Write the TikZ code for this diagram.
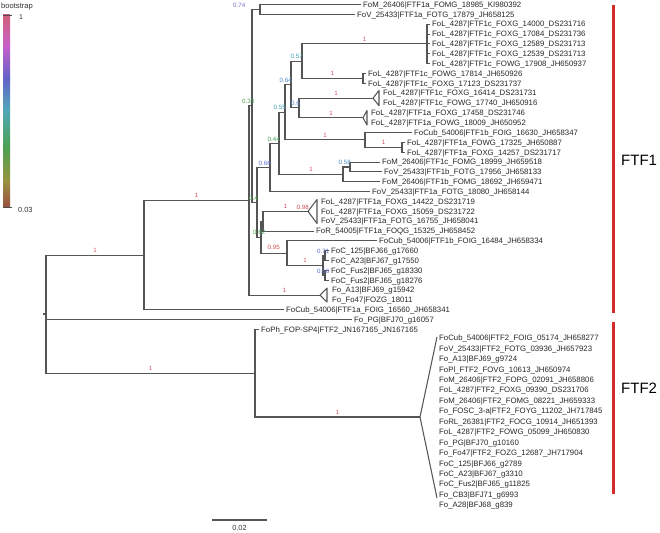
\documentclass[tikz,border=0pt]{standalone}
\usepackage{fontspec}
\setmainfont{Liberation Sans}

\definecolor{treeline}{HTML}{555555}
\definecolor{bsone}{HTML}{D2505E}
\definecolor{bsred}{HTML}{D04A4A}
\definecolor{bspurple}{HTML}{7A6CC8}
\definecolor{bsblue}{HTML}{5A6FCC}
\definecolor{bssky}{HTML}{4C88C4}
\definecolor{bsteal}{HTML}{46A0B4}
\definecolor{bsgreen}{HTML}{46A050}
\definecolor{cladered}{HTML}{D42A2A}
\definecolor{lg1}{HTML}{D0607A}
\definecolor{lg2}{HTML}{C860C8}
\definecolor{lg3}{HTML}{6462C8}
\definecolor{lg4}{HTML}{50A8B8}
\definecolor{lg5}{HTML}{4EA050}
\definecolor{lg6}{HTML}{989440}
\definecolor{lg7}{HTML}{9A5040}

\begin{document}
\begin{tikzpicture}[x=1pt, y=-1pt,
        branch/.style={draw=treeline, line width=1.05pt, to path={|- (\tikztotarget)}},
        stem/.style={draw=treeline, line width=1.05pt},
        tri/.style={draw=treeline, line width=1.05pt, line join=round},
        tip/.style={anchor=west, inner xsep=2pt, inner ysep=0pt, text height=5.5pt, text depth=0pt,
            font=\fontsize{7.8}{8}\selectfont, text=black!85},
        bs/.style={anchor=south east, inner sep=0.5pt, font=\fontsize{6.2}{6.2}\selectfont},
        bl/.style={anchor=south, inner sep=1pt, font=\fontsize{6.2}{6.2}\selectfont, text=bsone},
        clade/.style={draw=cladered, line width=3pt},
        cladename/.style={anchor=west, inner sep=0pt, font=\fontsize{15}{16}\selectfont}]

    \useasboundingbox (0,0) rectangle (660,532);

    % Legenda
    \shade[top color=lg1, bottom color=lg2] (3,15) rectangle (10,45.5);
    \shade[top color=lg2, bottom color=lg3] (3,45) rectangle (10,78.5);
    \shade[top color=lg3, bottom color=lg4] (3,78) rectangle (10,110.5);
    \shade[top color=lg4, bottom color=lg5] (3,110) rectangle (10,148.5);
    \shade[top color=lg5, bottom color=lg6] (3,148) rectangle (10,180.5);
    \shade[top color=lg6, bottom color=lg7] (3,180) rectangle (10,207);
    \draw[black!70, line width=0.6pt] (3,15) -- (12,15);
    \draw[black!70, line width=0.6pt] (3,207) -- (12,207);
    \node[anchor=west, inner sep=0pt, font=\fontsize{7.6}{8}\selectfont, text=black!80] (legtitle) at (1,7) {bootstrap};
    \node[anchor=west, inner sep=0pt, font=\fontsize{7}{8}\selectfont, text=black!80] (legmax) at (19,17.5) {1};
    \node[anchor=west, inner sep=0pt, font=\fontsize{7.4}{8}\selectfont, text=black!80] (legmin) at (18,210) {0.03};

    % Wezly wewnetrzne
    \coordinate (root0) at (43,314);
    \coordinate (root) at (46,314);
    \coordinate (k144) at (144,255.2);
    \coordinate (k249) at (249,200.5);
    \coordinate (k33) at (252,105.9);
    \coordinate (k74) at (260,9.4);
    \coordinate (k40) at (257,202.35);
    \coordinate (k66) at (270,167.5);
    \coordinate (k44) at (279,143.3);
    \coordinate (k55) at (285,112.2);
    \coordinate (k64) at (291,84.55);
    \coordinate (k57) at (302,61.15);
    \coordinate (kp5) at (427,43.9);
    \coordinate (kp7) at (363,78.4);
    \coordinate (k60) at (299,107.95);
    \coordinate (kC) at (365,139.9);
    \coordinate (kD) at (402,147.3);
    \coordinate (kE) at (343,174.4);
    \coordinate (k58) at (350,167.0);
    \coordinate (k62) at (261,237.2);
    \coordinate (kP) at (263,221.2);
    \coordinate (k95) at (287,253.2);
    \coordinate (kS) at (323,265.5);
    \coordinate (k71) at (325,255.7);
    \coordinate (k56) at (325,275.4);
    \coordinate (kF2) at (255,373.3);

    % Trojkaty (zwiniete klady)
    \coordinate (a1) at (373,98.1);  \coordinate (a1t) at (379,90.5);  \coordinate (a1b) at (379,105.7);
    \coordinate (a2) at (363,117.8); \coordinate (a2t) at (367,110.5); \coordinate (a2b) at (367,125);
    \coordinate (a3) at (308,211.35); \coordinate (a3t) at (317,199.5); \coordinate (a3b) at (317,223.5);
    \coordinate (a4) at (320,295.1); \coordinate (a4t) at (327,288);   \coordinate (a4b) at (327,302);
    \coordinate (a5) at (420,417);   \coordinate (a5t) at (437,337);   \coordinate (a5b) at (437,498);
    \draw[tri] (a1) -- (a1t) -- (a1b) -- cycle;
    \draw[tri] (a2) -- (a2t) -- (a2b) -- cycle;
    \draw[tri] (a3) -- (a3t) -- (a3b) -- cycle;
    \draw[tri] (a4) -- (a4t) -- (a4b) -- cycle;
    \draw[tri] (a5t) -- (a5) -- (a5b);

    % Liscie FTF1
    \node[tip] (l1) at (361,4.5) {FoM\_26406|FTF1a\_FOMG\_18985\_KI980392};
    \node[tip] (l2) at (355,14.35) {FoV\_25433|FTF1a\_FOTG\_17879\_JH658125};
    \node[tip] (l3) at (430,24.2) {FoL\_4287|FTF1c\_FOXG\_14000\_DS231716};
    \node[tip] (l4) at (430,34.05) {FoL\_4287|FTF1c\_FOXG\_17084\_DS231736};
    \node[tip] (l5) at (430,43.9) {FoL\_4287|FTF1c\_FOXG\_12589\_DS231713};
    \node[tip] (l6) at (430,53.75) {FoL\_4287|FTF1c\_FOXG\_12539\_DS231713};
    \node[tip] (l7) at (430,63.6) {FoL\_4287|FTF1c\_FOWG\_17908\_JH650937};
    \node[tip] (l8) at (366,73.45) {FoL\_4287|FTF1c\_FOWG\_17814\_JH650926};
    \node[tip] (l9) at (366,83.3) {FoL\_4287|FTF1c\_FOXG\_17123\_DS231737};
    \node[tip] (l10) at (381,93.15) {FoL\_4287|FTF1c\_FOXG\_16414\_DS231731};
    \node[tip] (l11) at (381,103) {FoL\_4287|FTF1c\_FOWG\_17740\_JH650916};
    \node[tip] (l12) at (369,112.85) {FoL\_4287|FTF1a\_FOXG\_17458\_DS231746};
    \node[tip] (l13) at (369,122.7) {FoL\_4287|FTF1a\_FOWG\_18009\_JH650952};
    \node[tip] (l14) at (412,132.55) {FoCub\_54006|FTF1b\_FOIG\_16630\_JH658347};
    \node[tip] (l15) at (405,142.4) {FoL\_4287|FTF1a\_FOWG\_17325\_JH650887};
    \node[tip] (l16) at (405,152.25) {FoL\_4287|FTF1a\_FOXG\_14257\_DS231717};
    \node[tip] (l17) at (380,162.1) {FoM\_26406|FTF1c\_FOMG\_18999\_JH659518};
    \node[tip] (l18) at (382,171.95) {FoV\_25433|FTF1b\_FOTG\_17956\_JH658133};
    \node[tip] (l19) at (380,181.8) {FoM\_26406|FTF1b\_FOMG\_18692\_JH659471};
    \node[tip] (l20) at (370,191.65) {FoV\_25433|FTF1a\_FOTG\_18080\_JH658144};
    \node[tip] (l21) at (319,201.5) {FoL\_4287|FTF1a\_FOXG\_14422\_DS231719};
    \node[tip] (l22) at (319,211.35) {FoL\_4287|FTF1a\_FOXG\_15059\_DS231722};
    \node[tip] (l23) at (319,221.2) {FoV\_25433|FTF1a\_FOTG\_16755\_JH658041};
    \node[tip] (l24) at (314,231.05) {FoR\_54005|FTF1a\_FOQG\_15325\_JH658452};
    \node[tip] (l25) at (377,240.9) {FoCub\_54006|FTF1b\_FOIG\_16484\_JH658334};
    \node[tip] (l26) at (329,250.75) {FoC\_125|BFJ66\_g17660};
    \node[tip] (l27) at (329,260.6) {FoC\_A23|BFJ67\_g17550};
    \node[tip] (l28) at (329,270.45) {FoC\_Fus2|BFJ65\_g18330};
    \node[tip] (l29) at (329,280.3) {FoC\_Fus2|BFJ65\_g18276};
    \node[tip] (l30) at (330,290.15) {Fo\_A13|BFJ69\_g15942};
    \node[tip] (l31) at (330,300) {Fo\_Fo47|FOZG\_18011};
    \node[tip] (l32) at (284,309.85) {FoCub\_54006|FTF1a\_FOIG\_16560\_JH658341};
    \node[tip] (l33) at (352,319.7) {Fo\_PG|BFJ70\_g16057};
    \node[tip] (l34) at (259,329.55) {FoPh\_FOP-SP4|FTF2\_JN167165\_JN167165};

    % Liscie FTF2
    \node[tip] (m1) at (437,338) {FoCub\_54006|FTF2\_FOIG\_05174\_JH658277};
    \node[tip] (m2) at (437,348.44) {FoV\_25433|FTF2\_FOTG\_03936\_JH657923};
    \node[tip] (m3) at (437,358.88) {Fo\_A13|BFJ69\_g9724};
    \node[tip] (m4) at (437,369.32) {FoPl\_FTF2\_FOVG\_10613\_JH650974};
    \node[tip] (m5) at (437,379.76) {FoM\_26406|FTF2\_FOPG\_02091\_JH658806};
    \node[tip] (m6) at (437,390.2) {FoL\_4287|FTF2\_FOXG\_09390\_DS231706};
    \node[tip] (m7) at (437,400.64) {FoM\_26406|FTF2\_FOMG\_08221\_JH659333};
    \node[tip] (m8) at (437,411.08) {Fo\_FOSC\_3-a|FTF2\_FOYG\_11202\_JH717845};
    \node[tip] (m9) at (437,421.52) {FoRL\_26381|FTF2\_FOCG\_10914\_JH651393};
    \node[tip] (m10) at (437,431.96) {FoL\_4287|FTF2\_FOWG\_05099\_JH650830};
    \node[tip] (m11) at (437,442.4) {Fo\_PG|BFJ70\_g10160};
    \node[tip] (m12) at (437,452.84) {Fo\_Fo47|FTF2\_FOZG\_12687\_JH717904};
    \node[tip] (m13) at (437,463.28) {FoC\_125|BFJ66\_g2789};
    \node[tip] (m14) at (437,473.72) {FoC\_A23|BFJ67\_g3310};
    \node[tip] (m15) at (437,484.16) {FoC\_Fus2|BFJ65\_g11825};
    \node[tip] (m16) at (437,494.6) {Fo\_CB3|BFJ71\_g6993};
    \node[tip] (m17) at (437,505.04) {Fo\_A28|BFJ68\_g839};

    % Galezie
    \path (root0) edge[stem] (root);
    \path (root) edge[branch] (k144);
    \path (root) edge[branch] (l33.west);
    \path (root) edge[branch] (kF2);
    \path (k144) edge[branch] (k249);
    \path (k144) edge[branch] (l32.west);
    \path (k249) edge[branch] (k33);
    \path (k249) edge[branch] (a4);
    \path (k33) edge[branch] (k74);
    \path (k33) edge[branch] (k40);
    \path (k74) edge[branch] (l1.west);
    \path (k74) edge[branch] (l2.west);
    \path (k40) edge[branch] (k66);
    \path (k40) edge[branch] (k62);
    \path (k66) edge[branch] (k44);
    \path (k66) edge[branch] (l20.west);
    \path (k44) edge[branch] (k55);
    \path (k44) edge[branch] (kE);
    \path (k55) edge[branch] (k64);
    \path (k55) edge[branch] (kC);
    \path (k64) edge[branch] (k57);
    \path (k64) edge[branch] (k60);
    \path (k57) edge[branch] (kp5);
    \path (k57) edge[branch] (kp7);
    \path (kp5) edge[branch] (l3.west);
    \path (kp5) edge[branch] (l4.west);
    \path (kp5) edge[branch] (l5.west);
    \path (kp5) edge[branch] (l6.west);
    \path (kp5) edge[branch] (l7.west);
    \path (kp7) edge[branch] (l8.west);
    \path (kp7) edge[branch] (l9.west);
    \path (k60) edge[branch] (a1);
    \path (k60) edge[branch] (a2);
    \path (kC) edge[branch] (l14.west);
    \path (kC) edge[branch] (kD);
    \path (kD) edge[branch] (l15.west);
    \path (kD) edge[branch] (l16.west);
    \path (kE) edge[branch] (k58);
    \path (kE) edge[branch] (l19.west);
    \path (k58) edge[branch] (l17.west);
    \path (k58) edge[branch] (l18.west);
    \path (k62) edge[branch] (kP);
    \path (k62) edge[branch] (k95);
    \path (kP) edge[branch] (a3);
    \path (kP) edge[branch] (l24.west);
    \path (k95) edge[branch] (l25.west);
    \path (k95) edge[branch] (kS);
    \path (kS) edge[branch] (k71);
    \path (kS) edge[branch] (k56);
    \path (k71) edge[branch] (l26.west);
    \path (k71) edge[branch] (l27.west);
    \path (k56) edge[branch] (l28.west);
    \path (k56) edge[branch] (l29.west);
    \path (kF2) edge[branch] (l34.west);
    \path (kF2) edge[branch] (a5);

    % Wsparcie wezlow
    \node[bs, text=bspurple] (s74) at (246,8.4) {0.74};
    \node[bs, text=bsgreen] (s33) at (255,104.4) {0.33};
    \node[bs, text=bsgreen] (s40) at (258.5,200.8) {0.4};
    \node[bs, text=bsblue] (s66) at (271.5,166) {0.66};
    \node[bs, text=bsgreen] (s44) at (280.5,141.8) {0.44};
    \node[bs, text=bsteal] (s55) at (286.5,110.7) {0.55};
    \node[bs, text=bssky] (s64) at (292.5,83) {0.64};
    \node[bs, text=bssky] (s60) at (300.5,106.4) {0.6};
    \node[bs, text=bsteal] (s57) at (303.5,59.6) {0.57};
    \node[bs, text=bssky] (s58) at (351.5,165.5) {0.58};
    \node[bs, text=bsgreen] (s62) at (266,235.7) {0.62};
    \node[bs, text=bsred] (s95) at (280.5,250) {0.95};
    \node[bs, text=bsred] (s98) at (309.5,209.8) {0.98};
    \node[bs, text=bsblue] (s71) at (330,254.2) {0.71};
    \node[bs, text=bsblue] (s56) at (330,273.9) {0.56};

    % Wsparcie galezi
    \node[bl] (b1) at (95,253.7) {1};
    \node[bl] (b2) at (196.5,199) {1};
    \node[bl] (b3) at (150.5,371.8) {1};
    \node[bl] (b4) at (337.5,415.5) {1};
    \node[bl] (b5) at (284.5,293.6) {1};
    \node[bl] (b6) at (364.5,42.4) {1};
    \node[bl] (b7) at (332.5,76.9) {1};
    \node[bl] (b8) at (336,96.6) {1};
    \node[bl] (b9) at (331,116.3) {1};
    \node[bl] (b10) at (325,138.4) {1};
    \node[bl] (b11) at (383.5,145.8) {1};
    \node[bl] (b12) at (311,172.9) {1};
    \node[bl] (b13) at (285.5,209.9) {1};
    \node[bl] (b14) at (305,264) {1};

    % Skala
    \coordinate (sb1) at (212,520);
    \coordinate (sb2) at (267,520);
    \path (sb1) edge[stem] (sb2);
    \node[inner sep=0pt, font=\fontsize{7.4}{8}\selectfont, text=black!80] (sblab) at (239.5,528) {0.02};

    % Klady
    \coordinate (f1t) at (613,5);
    \coordinate (f1b) at (613,313);
    \coordinate (f2t) at (613,322);
    \coordinate (f2b) at (613,494);
    \path (f1t) edge[clade] (f1b);
    \path (f2t) edge[clade] (f2b);
    \node[cladename] (ftf1) at (621,160) {FTF1};
    \node[cladename] (ftf2) at (621,388) {FTF2};
\end{tikzpicture}
\end{document}
